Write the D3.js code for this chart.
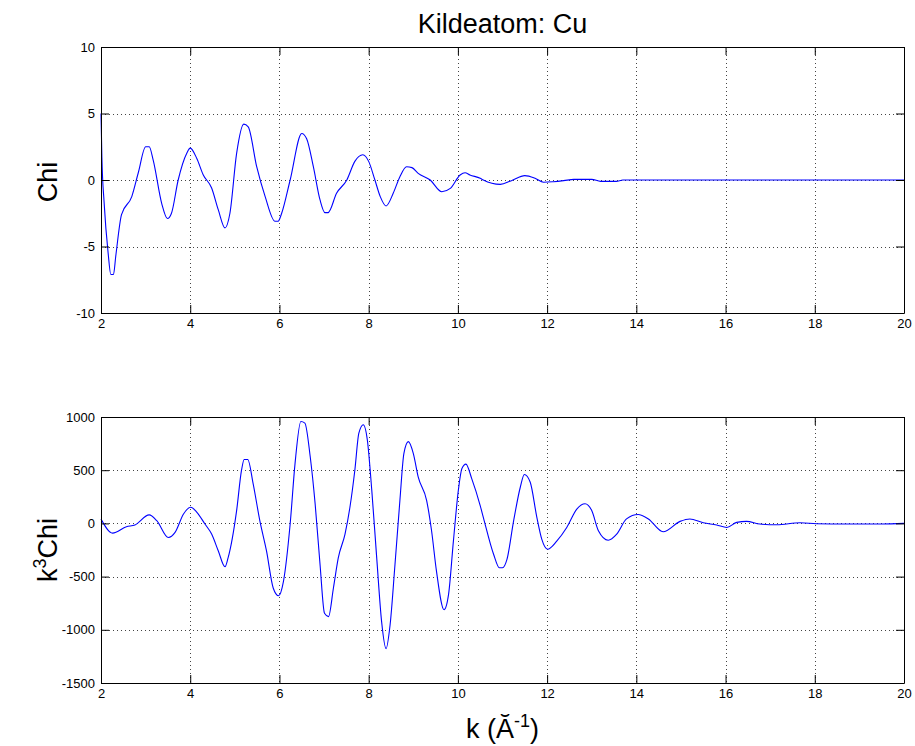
<!DOCTYPE html>
<html>
<head>
<meta charset="utf-8">
<script src="https://cdn.jsdelivr.net/npm/d3@7"></script>
<style>
  html, body { margin: 0; padding: 0; background: #fff; }
  text { font-family: "Liberation Sans", Arial, Helvetica, sans-serif; fill: #000; }
</style>
</head>
<body>
<svg id="chart" width="915" height="746"></svg>
<script>
// ---------- data ----------
const titleText = "Kildeatom: Cu";
const xLabelText = "k (Ă";
const xTicks = [2, 4, 6, 8, 10, 12, 14, 16, 18, 20];
const chiTicks = [-10, -5, 0, 5, 10];
const k3Ticks = [-1500, -1000, -500, 0, 500, 1000];

const chiK = [2.0, 2.02, 2.07, 2.16, 2.22, 2.28, 2.33, 2.46, 2.69, 2.84, 3.0, 3.08, 3.17, 3.36, 3.49, 3.58, 3.73, 3.92, 4.0, 4.15, 4.29, 4.48, 4.63, 4.78, 4.89, 5.04, 5.2, 5.3, 5.49, 5.68, 5.9, 5.97, 6.05, 6.24, 6.5, 6.61, 6.76, 6.91, 7.02, 7.09, 7.28, 7.51, 7.69, 7.87, 8.0, 8.14, 8.26, 8.39, 8.55, 8.7, 8.85, 8.97, 9.11, 9.38, 9.64, 9.83, 10.05, 10.16, 10.27, 10.5, 10.57, 10.95, 11.2, 11.5, 11.73, 11.92, 12.14, 12.37, 12.6, 13.0, 13.2, 13.55, 13.7, 20];
const chiV = [5, 1.7, -1.7, -5.5, -7.1, -7.1, -5.75, -2.6, -1.25, 0.6, 2.5, 2.5, 1.5, -1.75, -2.9, -2.5, 0, 2.0, 2.4, 1.6, 0.4, -0.6, -2.25, -3.6, -2.5, 2.0, 4.2, 4.0, 1.0, -1.25, -3.1, -3.1, -2.5, 0, 3.5, 3.1, 1.0, -1.5, -2.45, -2.45, -1.0, 0, 1.4, 1.9, 1.4, 0, -1.25, -1.95, -1.0, 0.25, 1.0, 0.93, 0.5, 0, -0.88, -0.63, 0.38, 0.55, 0.38, 0.13, 0, -0.33, -0.05, 0.33, 0.13, -0.17, -0.13, -0.05, 0.05, 0.05, -0.1, -0.1, 0, 0];

const k3K = [2.0, 2.26, 2.57, 2.76, 3.08, 3.25, 3.51, 3.66, 3.85, 4.01, 4.15, 4.33, 4.48, 4.63, 4.78, 4.85, 5.04, 5.15, 5.21, 5.29, 5.41, 5.56, 5.71, 5.86, 5.98, 6.09, 6.24, 6.35, 6.48, 6.57, 6.69, 6.8, 6.91, 7.01, 7.1, 7.21, 7.32, 7.47, 7.58, 7.69, 7.78, 7.88, 7.97, 8.07, 8.18, 8.29, 8.39, 8.48, 8.59, 8.7, 8.79, 8.89, 9.0, 9.11, 9.3, 9.41, 9.52, 9.69, 9.79, 9.9, 10.01, 10.09, 10.18, 10.31, 10.5, 10.57, 10.8, 10.93, 11.0, 11.1, 11.25, 11.4, 11.49, 11.62, 11.77, 11.88, 12.01, 12.22, 12.44, 12.67, 12.85, 13.0, 13.15, 13.37, 13.56, 13.78, 14.04, 14.27, 14.6, 14.98, 15.2, 15.5, 15.8, 16.03, 16.25, 16.47, 16.77, 17.15, 17.67, 18.04, 18.72, 19.5, 20];
const k3V = [42, -91, -31, -15, 80, 26, -133, -85, 89, 152, 104, -6, -100, -259, -408, -322, 120, 500, 600, 600, 374, 26, -259, -607, -680, -544, -6, 564, 958, 943, 626, 184, -386, -845, -876, -607, -322, -100, 152, 500, 848, 927, 785, 310, -322, -923, -1177, -955, -386, 215, 659, 769, 659, 437, 215, -69, -449, -812, -670, -164, 310, 516, 557, 421, 168, 57, -290, -417, -417, -338, 26, 342, 459, 389, 57, -148, -243, -164, -38, 137, 184, 121, -69, -158, -101, 42, 83, 42, -79, 19, 42, 6, -15, -38, 10, 19, -6, -13, 6, -3, -6, -6, 0];

// ---------- layout ----------
const svg = d3.select("#chart");
svg.append("rect").attr("width", 915).attr("height", 746).attr("fill", "#fff");

const left = 101, right = 904;
const x = d3.scaleLinear().domain([2, 20]).range([left, right]);
const fmt = d => String(d);

function panel(top, bottom, yDomain, yTicks, kArr, vArr) {
  const y = d3.scaleLinear().domain(yDomain).range([bottom, top]);
  const g = svg.append("g");
  // grid
  const grid = g.append("g").attr("stroke", "#444").attr("stroke-width", 1)
    .attr("stroke-dasharray", "1,3").attr("fill", "none");
  xTicks.slice(1, -1).forEach(t => {
    grid.append("line").attr("x1", Math.round(x(t)) + 0.5).attr("x2", Math.round(x(t)) + 0.5)
      .attr("y1", top).attr("y2", bottom);
  });
  yTicks.slice(1, -1).forEach(t => {
    grid.append("line").attr("x1", left).attr("x2", right)
      .attr("y1", Math.round(y(t)) + 0.5).attr("y2", Math.round(y(t)) + 0.5);
  });
  // line
  const data = kArr.map((k, i) => [k, vArr[i]]);
  g.append("path").datum(data)
    .attr("fill", "none").attr("stroke", "#0000ff").attr("stroke-width", 1.1)
    .attr("d", d3.line().x(d => x(d[0])).y(d => y(d[1])).curve(d3.curveMonotoneX));
  // axes
  const ax = (gen, tr) => {
    const a = g.append("g").attr("transform", tr).call(gen);
    a.selectAll("path.domain").attr("stroke", "#000");
    a.selectAll(".tick line").attr("stroke", "#000");
    a.selectAll("text").style("font-family", "'Liberation Sans', Arial, sans-serif")
      .style("font-size", "13px").attr("fill", "#000");
    return a;
  };
  ax(d3.axisBottom(x).tickValues(xTicks).tickSizeInner(-8).tickSizeOuter(0).tickPadding(6).tickFormat(fmt),
     `translate(0,${bottom})`);
  ax(d3.axisTop(x).tickValues(xTicks).tickSizeInner(-8).tickSizeOuter(0).tickFormat(""),
     `translate(0,${top})`);
  ax(d3.axisLeft(y).tickValues(yTicks).tickSizeInner(-8).tickSizeOuter(0).tickPadding(6).tickFormat(fmt),
     `translate(${left},0)`);
  ax(d3.axisRight(y).tickValues(yTicks).tickSizeInner(-8).tickSizeOuter(0).tickFormat(""),
     `translate(${right},0)`);
  return y;
}

panel(47, 313, [-10, 10], chiTicks, chiK, chiV);
panel(417, 683, [-1500, 1000], k3Ticks, k3K, k3V);

// title
svg.append("text").attr("x", (left + right) / 2).attr("y", 33)
  .attr("text-anchor", "middle").style("font-size", "27px").text(titleText);

// y labels
svg.append("text").attr("transform", "translate(57,182) rotate(-90)")
  .attr("text-anchor", "middle").style("font-size", "27px").text("Chi");
const yl2 = svg.append("text").attr("transform", "translate(57,550) rotate(-90)")
  .attr("text-anchor", "middle").style("font-size", "27px");
yl2.append("tspan").text("k");
yl2.append("tspan").attr("dy", -11).style("font-size", "18px").text("3");
yl2.append("tspan").attr("dy", 11).text("Chi");

// x label
const xl = svg.append("text").attr("x", (left + right) / 2).attr("y", 738)
  .attr("text-anchor", "middle").style("font-size", "27px");
xl.append("tspan").text(xLabelText);
xl.append("tspan").attr("dy", -11).style("font-size", "18px").text("-1");
xl.append("tspan").attr("dy", 11).text(")");
</script>
</body>
</html>
